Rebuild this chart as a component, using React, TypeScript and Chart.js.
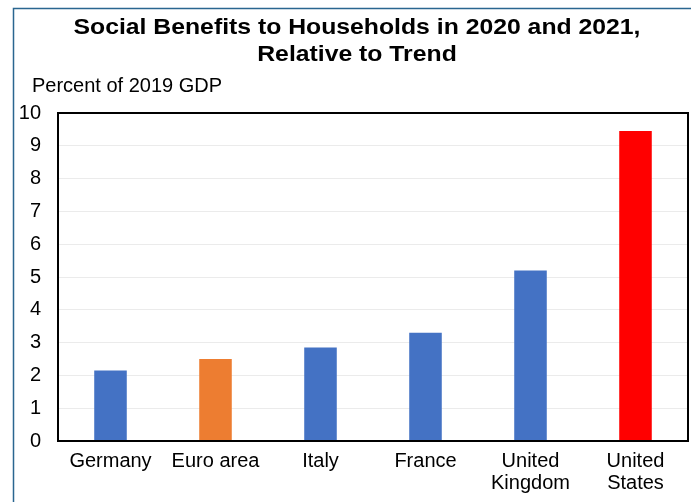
import React, { useEffect, useRef } from "react";
import { Chart, registerables } from "chart.js";

Chart.register(...registerables);

const categories: (string | string[])[] = ["Germany", "Euro area", "Italy", "France", ["United", "Kingdom"], ["United", "States"]];
const values = [2.15, 2.5, 2.85, 3.3, 5.2, 9.45];
const barColors = ["#4472C4", "#ED7D31", "#4472C4", "#4472C4", "#4472C4", "#FF0000"];
const titleLines = ["Social Benefits to Households in 2020 and 2021,", "Relative to Trend"];
const yAxisLabel = "Percent of 2019 GDP";

const FONT = "'Liberation Sans', Arial, sans-serif";

const decor = {
  id: "decor",
  beforeDraw(chart: any) {
    const ctx = chart.ctx;
    ctx.save();
    ctx.fillStyle = "#ffffff";
    ctx.fillRect(0, 0, chart.width, chart.height);
    ctx.strokeStyle = "#2a6690";
    ctx.lineWidth = 1.5;
    ctx.strokeRect(13.5, 8.5, chart.width + 20, chart.height + 20);
    ctx.restore();
  },
  afterDraw(chart: any) {
    const ctx = chart.ctx;
    const a = chart.chartArea;
    ctx.save();
    ctx.strokeStyle = "#000000";
    ctx.lineWidth = 2;
    ctx.strokeRect(a.left, a.top, a.right - a.left, a.bottom - a.top);
    ctx.fillStyle = "#000000";
    ctx.textAlign = "center";
    ctx.textBaseline = "middle";
    ctx.font = `bold 22px ${FONT}`;
    const w0 = ctx.measureText(titleLines[0]).width;
    const sx = 567 / w0;
    ctx.save();
    ctx.translate(357, 0);
    ctx.scale(sx, 1);
    ctx.fillText(titleLines[0], 0, 28);
    ctx.fillText(titleLines[1], 0, 55);
    ctx.restore();
    ctx.textAlign = "left";
    ctx.font = `20px ${FONT}`;
    ctx.fillText(yAxisLabel, 32, 86);
    ctx.restore();
  },
};

export default function App() {
  const ref = useRef<HTMLCanvasElement>(null);
  useEffect(() => {
    if (!ref.current) return;
    const chart = new Chart(ref.current, {
      type: "bar",
      data: {
        labels: categories,
        datasets: [
          {
            data: values,
            backgroundColor: barColors,
            borderWidth: 0,
            categoryPercentage: 1,
            barPercentage: 0.31,
          },
        ],
      },
      options: {
        animation: false,
        responsive: false,
        maintainAspectRatio: false,
        layout: { padding: { top: 113, right: 3, left: 0, bottom: 0 } },
        plugins: { legend: { display: false }, title: { display: false }, tooltip: { enabled: false } },
        scales: {
          x: {
            grid: { display: false, drawTicks: false },
            border: { display: false },
            ticks: { color: "#000", font: { family: FONT, size: 20, lineHeight: 1.1 }, padding: 9, maxRotation: 0, autoSkip: false },
            afterFit(scale: any) { scale.height = 61; },
          },
          y: {
            min: 0,
            max: 10,
            grid: { color: "#ebebeb", lineWidth: 1, drawTicks: false },
            border: { display: false },
            ticks: { stepSize: 1, color: "#000", font: { family: FONT, size: 20 }, padding: 17 },
            afterFit(scale: any) { scale.width = 58; },
          },
        },
      },
      plugins: [decor],
    });
    return () => chart.destroy();
  }, []);
  return (
    <div style={{ position: "fixed", left: 0, top: 0, width: 691, height: 502 }}>
      <canvas ref={ref} width={691} height={502} style={{ display: "block", width: 691, height: 502 }} />
    </div>
  );
}
